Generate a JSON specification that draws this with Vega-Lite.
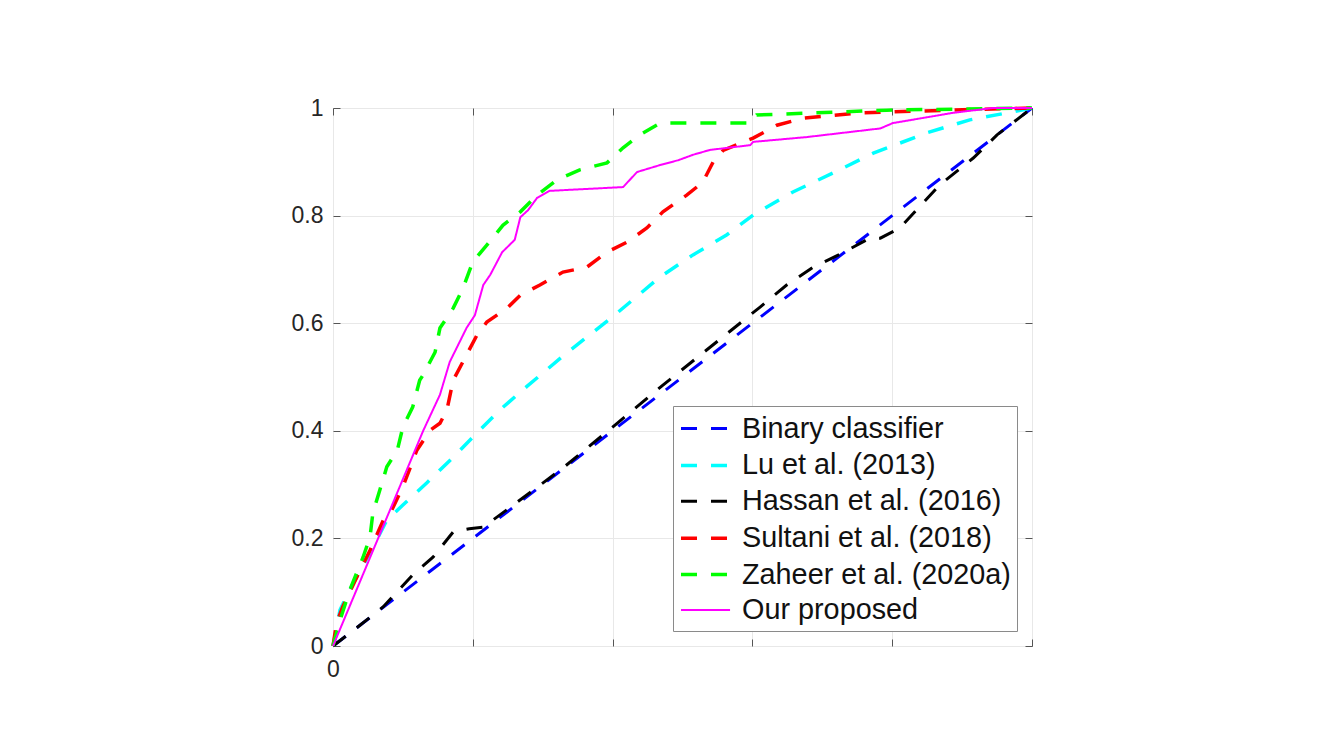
{
  "$schema": "https://vega.github.io/schema/vega-lite/v6.json",
  "width": 699,
  "height": 538,
  "autosize": {"type": "none"},
  "padding": {"left": 333, "top": 108, "right": 285, "bottom": 101},
  "background": "white",
  "config": {
    "view": {"stroke": "#6e6e6e", "strokeWidth": 1},
    "axis": {"labelFont": "Liberation Sans", "labelFontSize": 23, "labelColor": "#262626", "gridColor": "#e8e8e8", "gridWidth": 1, "tickColor": "#555555", "domain": false, "title": null, "labelFlush": false}
  },
  "datasets": {
    "roc": [
      {"method": "Binary classifier", "i": 0, "fpr": 0, "tpr": 0},
      {"method": "Binary classifier", "i": 1, "fpr": 0.5, "tpr": 0.5},
      {"method": "Binary classifier", "i": 2, "fpr": 1, "tpr": 1},

      {"method": "Lu et al. (2013)", "i": 0, "fpr": 0, "tpr": 0},
      {"method": "Lu et al. (2013)", "i": 1, "fpr": 0.01, "tpr": 0.067},
      {"method": "Lu et al. (2013)", "i": 2, "fpr": 0.029, "tpr": 0.117},
      {"method": "Lu et al. (2013)", "i": 3, "fpr": 0.053, "tpr": 0.173},
      {"method": "Lu et al. (2013)", "i": 4, "fpr": 0.077, "tpr": 0.234},
      {"method": "Lu et al. (2013)", "i": 5, "fpr": 0.1, "tpr": 0.262},
      {"method": "Lu et al. (2013)", "i": 6, "fpr": 0.134, "tpr": 0.303},
      {"method": "Lu et al. (2013)", "i": 7, "fpr": 0.172, "tpr": 0.351},
      {"method": "Lu et al. (2013)", "i": 8, "fpr": 0.206, "tpr": 0.396},
      {"method": "Lu et al. (2013)", "i": 9, "fpr": 0.239, "tpr": 0.439},
      {"method": "Lu et al. (2013)", "i": 10, "fpr": 0.277, "tpr": 0.482},
      {"method": "Lu et al. (2013)", "i": 11, "fpr": 0.33, "tpr": 0.54},
      {"method": "Lu et al. (2013)", "i": 12, "fpr": 0.4, "tpr": 0.612},
      {"method": "Lu et al. (2013)", "i": 13, "fpr": 0.468, "tpr": 0.686},
      {"method": "Lu et al. (2013)", "i": 14, "fpr": 0.515, "tpr": 0.727},
      {"method": "Lu et al. (2013)", "i": 15, "fpr": 0.563, "tpr": 0.764},
      {"method": "Lu et al. (2013)", "i": 16, "fpr": 0.601, "tpr": 0.801},
      {"method": "Lu et al. (2013)", "i": 17, "fpr": 0.658, "tpr": 0.844},
      {"method": "Lu et al. (2013)", "i": 18, "fpr": 0.715, "tpr": 0.879},
      {"method": "Lu et al. (2013)", "i": 19, "fpr": 0.773, "tpr": 0.916},
      {"method": "Lu et al. (2013)", "i": 20, "fpr": 0.85, "tpr": 0.954},
      {"method": "Lu et al. (2013)", "i": 21, "fpr": 0.911, "tpr": 0.978},
      {"method": "Lu et al. (2013)", "i": 22, "fpr": 0.973, "tpr": 0.993},
      {"method": "Lu et al. (2013)", "i": 23, "fpr": 1, "tpr": 1},

      {"method": "Hassan et al. (2016)", "i": 0, "fpr": 0, "tpr": 0},
      {"method": "Hassan et al. (2016)", "i": 1, "fpr": 0.039, "tpr": 0.039},
      {"method": "Hassan et al. (2016)", "i": 2, "fpr": 0.072, "tpr": 0.073},
      {"method": "Hassan et al. (2016)", "i": 3, "fpr": 0.114, "tpr": 0.132},
      {"method": "Hassan et al. (2016)", "i": 4, "fpr": 0.143, "tpr": 0.165},
      {"method": "Hassan et al. (2016)", "i": 5, "fpr": 0.172, "tpr": 0.212},
      {"method": "Hassan et al. (2016)", "i": 6, "fpr": 0.195, "tpr": 0.218},
      {"method": "Hassan et al. (2016)", "i": 7, "fpr": 0.215, "tpr": 0.221},
      {"method": "Hassan et al. (2016)", "i": 8, "fpr": 0.258, "tpr": 0.262},
      {"method": "Hassan et al. (2016)", "i": 9, "fpr": 0.329, "tpr": 0.331},
      {"method": "Hassan et al. (2016)", "i": 10, "fpr": 0.4, "tpr": 0.407},
      {"method": "Hassan et al. (2016)", "i": 11, "fpr": 0.472, "tpr": 0.485},
      {"method": "Hassan et al. (2016)", "i": 12, "fpr": 0.611, "tpr": 0.63},
      {"method": "Hassan et al. (2016)", "i": 13, "fpr": 0.649, "tpr": 0.671},
      {"method": "Hassan et al. (2016)", "i": 14, "fpr": 0.687, "tpr": 0.704},
      {"method": "Hassan et al. (2016)", "i": 15, "fpr": 0.728, "tpr": 0.73},
      {"method": "Hassan et al. (2016)", "i": 16, "fpr": 0.768, "tpr": 0.758},
      {"method": "Hassan et al. (2016)", "i": 17, "fpr": 0.783, "tpr": 0.758},
      {"method": "Hassan et al. (2016)", "i": 18, "fpr": 0.811, "tpr": 0.777},
      {"method": "Hassan et al. (2016)", "i": 19, "fpr": 0.868, "tpr": 0.857},
      {"method": "Hassan et al. (2016)", "i": 20, "fpr": 0.916, "tpr": 0.907},
      {"method": "Hassan et al. (2016)", "i": 21, "fpr": 0.95, "tpr": 0.95},
      {"method": "Hassan et al. (2016)", "i": 22, "fpr": 1, "tpr": 1},

      {"method": "Sultani et al. (2018)", "i": 0, "fpr": 0, "tpr": 0},
      {"method": "Sultani et al. (2018)", "i": 1, "fpr": 0.005, "tpr": 0.042},
      {"method": "Sultani et al. (2018)", "i": 2, "fpr": 0.014, "tpr": 0.073},
      {"method": "Sultani et al. (2018)", "i": 3, "fpr": 0.034, "tpr": 0.128},
      {"method": "Sultani et al. (2018)", "i": 4, "fpr": 0.053, "tpr": 0.178},
      {"method": "Sultani et al. (2018)", "i": 5, "fpr": 0.072, "tpr": 0.234},
      {"method": "Sultani et al. (2018)", "i": 6, "fpr": 0.082, "tpr": 0.247},
      {"method": "Sultani et al. (2018)", "i": 7, "fpr": 0.1, "tpr": 0.296},
      {"method": "Sultani et al. (2018)", "i": 8, "fpr": 0.12, "tpr": 0.364},
      {"method": "Sultani et al. (2018)", "i": 9, "fpr": 0.139, "tpr": 0.401},
      {"method": "Sultani et al. (2018)", "i": 10, "fpr": 0.153, "tpr": 0.414},
      {"method": "Sultani et al. (2018)", "i": 11, "fpr": 0.163, "tpr": 0.439},
      {"method": "Sultani et al. (2018)", "i": 12, "fpr": 0.172, "tpr": 0.494},
      {"method": "Sultani et al. (2018)", "i": 13, "fpr": 0.191, "tpr": 0.541},
      {"method": "Sultani et al. (2018)", "i": 14, "fpr": 0.206, "tpr": 0.578},
      {"method": "Sultani et al. (2018)", "i": 15, "fpr": 0.22, "tpr": 0.602},
      {"method": "Sultani et al. (2018)", "i": 16, "fpr": 0.249, "tpr": 0.628},
      {"method": "Sultani et al. (2018)", "i": 17, "fpr": 0.268, "tpr": 0.652},
      {"method": "Sultani et al. (2018)", "i": 18, "fpr": 0.296, "tpr": 0.671},
      {"method": "Sultani et al. (2018)", "i": 19, "fpr": 0.329, "tpr": 0.695},
      {"method": "Sultani et al. (2018)", "i": 20, "fpr": 0.363, "tpr": 0.704},
      {"method": "Sultani et al. (2018)", "i": 21, "fpr": 0.392, "tpr": 0.732},
      {"method": "Sultani et al. (2018)", "i": 22, "fpr": 0.421, "tpr": 0.751},
      {"method": "Sultani et al. (2018)", "i": 23, "fpr": 0.449, "tpr": 0.777},
      {"method": "Sultani et al. (2018)", "i": 24, "fpr": 0.472, "tpr": 0.807},
      {"method": "Sultani et al. (2018)", "i": 25, "fpr": 0.506, "tpr": 0.838},
      {"method": "Sultani et al. (2018)", "i": 26, "fpr": 0.529, "tpr": 0.862},
      {"method": "Sultani et al. (2018)", "i": 27, "fpr": 0.544, "tpr": 0.9},
      {"method": "Sultani et al. (2018)", "i": 28, "fpr": 0.558, "tpr": 0.921},
      {"method": "Sultani et al. (2018)", "i": 29, "fpr": 0.601, "tpr": 0.944},
      {"method": "Sultani et al. (2018)", "i": 30, "fpr": 0.635, "tpr": 0.968},
      {"method": "Sultani et al. (2018)", "i": 31, "fpr": 0.672, "tpr": 0.981},
      {"method": "Sultani et al. (2018)", "i": 32, "fpr": 0.754, "tpr": 0.991},
      {"method": "Sultani et al. (2018)", "i": 33, "fpr": 0.883, "tpr": 0.996},
      {"method": "Sultani et al. (2018)", "i": 34, "fpr": 1, "tpr": 1},

      {"method": "Zaheer et al. (2020a)", "i": 0, "fpr": 0, "tpr": 0},
      {"method": "Zaheer et al. (2020a)", "i": 1, "fpr": 0.01, "tpr": 0.048},
      {"method": "Zaheer et al. (2020a)", "i": 2, "fpr": 0.024, "tpr": 0.104},
      {"method": "Zaheer et al. (2020a)", "i": 3, "fpr": 0.043, "tpr": 0.165},
      {"method": "Zaheer et al. (2020a)", "i": 4, "fpr": 0.053, "tpr": 0.203},
      {"method": "Zaheer et al. (2020a)", "i": 5, "fpr": 0.057, "tpr": 0.247},
      {"method": "Zaheer et al. (2020a)", "i": 6, "fpr": 0.067, "tpr": 0.29},
      {"method": "Zaheer et al. (2020a)", "i": 7, "fpr": 0.077, "tpr": 0.333},
      {"method": "Zaheer et al. (2020a)", "i": 8, "fpr": 0.092, "tpr": 0.364},
      {"method": "Zaheer et al. (2020a)", "i": 9, "fpr": 0.1, "tpr": 0.407},
      {"method": "Zaheer et al. (2020a)", "i": 10, "fpr": 0.114, "tpr": 0.444},
      {"method": "Zaheer et al. (2020a)", "i": 11, "fpr": 0.124, "tpr": 0.494},
      {"method": "Zaheer et al. (2020a)", "i": 12, "fpr": 0.129, "tpr": 0.504},
      {"method": "Zaheer et al. (2020a)", "i": 13, "fpr": 0.146, "tpr": 0.546},
      {"method": "Zaheer et al. (2020a)", "i": 14, "fpr": 0.153, "tpr": 0.591},
      {"method": "Zaheer et al. (2020a)", "i": 15, "fpr": 0.172, "tpr": 0.628},
      {"method": "Zaheer et al. (2020a)", "i": 16, "fpr": 0.186, "tpr": 0.665},
      {"method": "Zaheer et al. (2020a)", "i": 17, "fpr": 0.2, "tpr": 0.714},
      {"method": "Zaheer et al. (2020a)", "i": 18, "fpr": 0.22, "tpr": 0.745},
      {"method": "Zaheer et al. (2020a)", "i": 19, "fpr": 0.243, "tpr": 0.782},
      {"method": "Zaheer et al. (2020a)", "i": 20, "fpr": 0.268, "tpr": 0.807},
      {"method": "Zaheer et al. (2020a)", "i": 21, "fpr": 0.292, "tpr": 0.838},
      {"method": "Zaheer et al. (2020a)", "i": 22, "fpr": 0.32, "tpr": 0.866},
      {"method": "Zaheer et al. (2020a)", "i": 23, "fpr": 0.353, "tpr": 0.885},
      {"method": "Zaheer et al. (2020a)", "i": 24, "fpr": 0.392, "tpr": 0.898},
      {"method": "Zaheer et al. (2020a)", "i": 25, "fpr": 0.415, "tpr": 0.926},
      {"method": "Zaheer et al. (2020a)", "i": 26, "fpr": 0.439, "tpr": 0.95},
      {"method": "Zaheer et al. (2020a)", "i": 27, "fpr": 0.468, "tpr": 0.972},
      {"method": "Zaheer et al. (2020a)", "i": 28, "fpr": 0.597, "tpr": 0.972},
      {"method": "Zaheer et al. (2020a)", "i": 29, "fpr": 0.606, "tpr": 0.987},
      {"method": "Zaheer et al. (2020a)", "i": 30, "fpr": 0.792, "tpr": 0.996},
      {"method": "Zaheer et al. (2020a)", "i": 31, "fpr": 1, "tpr": 1},

      {"method": "Our proposed", "i": 0, "fpr": 0, "tpr": 0},
      {"method": "Our proposed", "i": 1, "fpr": 0.129, "tpr": 0.4},
      {"method": "Our proposed", "i": 2, "fpr": 0.153, "tpr": 0.467},
      {"method": "Our proposed", "i": 3, "fpr": 0.167, "tpr": 0.528},
      {"method": "Our proposed", "i": 4, "fpr": 0.191, "tpr": 0.591},
      {"method": "Our proposed", "i": 5, "fpr": 0.203, "tpr": 0.615},
      {"method": "Our proposed", "i": 6, "fpr": 0.215, "tpr": 0.671},
      {"method": "Our proposed", "i": 7, "fpr": 0.225, "tpr": 0.69},
      {"method": "Our proposed", "i": 8, "fpr": 0.242, "tpr": 0.732},
      {"method": "Our proposed", "i": 9, "fpr": 0.26, "tpr": 0.755},
      {"method": "Our proposed", "i": 10, "fpr": 0.268, "tpr": 0.797},
      {"method": "Our proposed", "i": 11, "fpr": 0.279, "tpr": 0.81},
      {"method": "Our proposed", "i": 12, "fpr": 0.292, "tpr": 0.833},
      {"method": "Our proposed", "i": 13, "fpr": 0.31, "tpr": 0.846},
      {"method": "Our proposed", "i": 14, "fpr": 0.415, "tpr": 0.853},
      {"method": "Our proposed", "i": 15, "fpr": 0.435, "tpr": 0.881},
      {"method": "Our proposed", "i": 16, "fpr": 0.468, "tpr": 0.894},
      {"method": "Our proposed", "i": 17, "fpr": 0.494, "tpr": 0.903},
      {"method": "Our proposed", "i": 18, "fpr": 0.515, "tpr": 0.913},
      {"method": "Our proposed", "i": 19, "fpr": 0.539, "tpr": 0.922},
      {"method": "Our proposed", "i": 20, "fpr": 0.597, "tpr": 0.931},
      {"method": "Our proposed", "i": 21, "fpr": 0.601, "tpr": 0.937},
      {"method": "Our proposed", "i": 22, "fpr": 0.678, "tpr": 0.946},
      {"method": "Our proposed", "i": 23, "fpr": 0.783, "tpr": 0.962},
      {"method": "Our proposed", "i": 24, "fpr": 0.801, "tpr": 0.972},
      {"method": "Our proposed", "i": 25, "fpr": 0.887, "tpr": 0.991},
      {"method": "Our proposed", "i": 26, "fpr": 0.944, "tpr": 1.0},
      {"method": "Our proposed", "i": 27, "fpr": 1, "tpr": 1}
    ]
  },
  "data": {"name": "roc"},
  "resolve": {"axis": {"x": "independent", "y": "independent"}},
  "layer": [
    {
      "mark": {"type": "line", "clip": false},
      "encoding": {
        "x": {
          "field": "fpr", "type": "quantitative",
          "scale": {"domain": [0, 1], "nice": false, "zero": false},
          "axis": {"orient": "bottom", "values": [0, 0.2, 0.4, 0.6, 0.8, 1], "grid": true, "tickSize": -7, "labelPadding": 19, "labelExpr": "datum.value == 0 ? '0' : ''"}
        },
        "y": {
          "field": "tpr", "type": "quantitative",
          "scale": {"domain": [0, 1], "nice": false, "zero": false},
          "axis": {"orient": "left", "values": [0, 0.2, 0.4, 0.6, 0.8, 1], "grid": true, "tickSize": -7, "labelPadding": 17, "format": "~g"}
        },
        "order": {"field": "i", "type": "quantitative"},
        "color": {
          "field": "method", "type": "nominal",
          "scale": {
            "domain": ["Binary classifier", "Lu et al. (2013)", "Hassan et al. (2016)", "Sultani et al. (2018)", "Zaheer et al. (2020a)", "Our proposed"],
            "range": ["#0000ff", "#00ffff", "#000000", "#ff0000", "#00ff00", "#ff00ff"]
          },
          "legend": {
            "title": null, "orient": "bottom-right", "offset": 15,
            "labelFont": "Liberation Sans", "labelFontSize": 28.8, "labelColor": "#111111", "labelLimit": 400,
            "symbolType": "M-1,0L2.27,0", "symbolSize": 900, "symbolStrokeWidth": 3,
            "strokeColor": "#8a8a8a", "fillColor": "white", "padding": 6, "rowPadding": 4.4, "labelOffset": 29
          }
        },
        "strokeDash": {
          "field": "method", "type": "nominal",
          "scale": {
            "domain": ["Binary classifier", "Lu et al. (2013)", "Hassan et al. (2016)", "Sultani et al. (2018)", "Zaheer et al. (2020a)", "Our proposed"],
            "range": [[16, 14], [16, 14], [16, 14], [16, 14], [16, 14], [1, 0]]
          },
          "legend": {"title": null}
        },
        "strokeWidth": {
          "field": "method", "type": "nominal",
          "scale": {
            "type": "ordinal",
            "domain": ["Binary classifier", "Lu et al. (2013)", "Hassan et al. (2016)", "Sultani et al. (2018)", "Zaheer et al. (2020a)", "Our proposed"],
            "range": [3, 3.5, 3, 3.5, 3.5, 2]
          },
          "legend": null
        }
      }
    },
    {
      "mark": {"type": "point", "opacity": 0},
      "encoding": {
        "x": {
          "field": "fpr", "type": "quantitative",
          "axis": {"orient": "top", "values": [0, 0.2, 0.4, 0.6, 0.8, 1], "grid": false, "labels": false, "tickSize": -7}
        },
        "y": {
          "field": "tpr", "type": "quantitative",
          "axis": {"orient": "right", "values": [0, 0.2, 0.4, 0.6, 0.8, 1], "grid": false, "labels": false, "tickSize": -7}
        }
      }
    }
  ]
}
